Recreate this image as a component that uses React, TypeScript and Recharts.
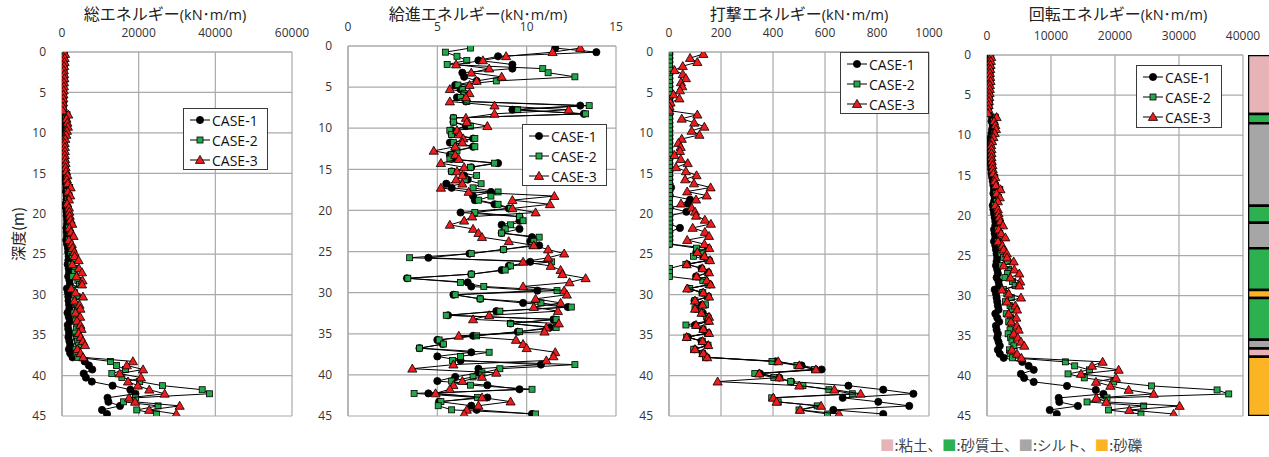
import { ScatterChart, Scatter, XAxis, YAxis, CartesianGrid, BarChart, Bar } from 'recharts'

// depth (m) of each measurement
const depth = [
  0.25, 0.75, 1.25, 1.75, 2.25, 2.75, 3.25, 3.75, 4.25, 4.75,
  5.25, 5.75, 6.25, 6.75, 7.25, 7.75, 8.25, 8.75, 9.25, 9.75,
  10.25, 10.75, 11.25, 11.75, 12.25, 12.75, 13.25, 13.75, 14.25, 14.75,
  15.25, 15.75, 16.25, 16.75, 17.25, 17.75, 18.25, 18.75, 19.25, 19.75,
  20.25, 20.75, 21.25, 21.75, 22.25, 22.75, 23.25, 23.75, 24.25, 24.75,
  25.25, 25.75, 26.25, 26.75, 27.25, 27.75, 28.25, 28.75, 29.25, 29.75,
  30.25, 30.75, 31.25, 31.75, 32.25, 32.75, 33.25, 33.75, 34.25, 34.75,
  35.25, 35.75, 36.25, 36.75, 37.25, 37.75, 38.25, 38.75, 39.25, 39.75,
  40.25, 40.75, 41.25, 41.75, 42.25, 42.75, 43.25, 43.75, 44.25, 44.75,
]

// 総エネルギー
const totalCase1 = [
  510, 500, 460, 430, 410, 390, 410, 390, 360, 340,
  310, 290, 260, 210, 165, 810, 715, 905, 805, 705,
  605, 505, 460, 455, 490, 505, 555, 605, 660, 705,
  805, 905, 1005, 1110, 1005, 1210, 1190, 980, 1010, 1175,
  1205, 1310, 1310, 1150, 1210, 1310, 1110, 1310, 1560, 1615,
  1740, 1660, 1480, 1735, 1860, 1610, 1945, 2065, 1285, 1540,
  1655, 1705, 1835, 1915, 1440, 1755, 2060, 1510, 1640, 1860,
  1680, 1930, 2155, 1805, 2135, 2750, 5915, 7020, 7895, 5660,
  6230, 7775, 13200, 17830, 19145, 11875, 12110, 15130, 10440, 11735,
]
const totalCase2 = [
  607, 555, 506, 487, 456, 431, 463, 435, 410, 388,
  358, 328, 288, 238, 195, 1312, 1015, 1208, 1308, 1109,
  908, 708, 609, 608, 659, 658, 708, 808, 860, 909,
  1208, 1109, 1309, 2009, 1409, 1810, 1510, 1209, 1510, 1611,
  1809, 2012, 2112, 1711, 2011, 2211, 1713, 2112, 2416, 2340,
  2701, 3355, 2376, 3411, 3211, 2809, 4133, 4556, 2688, 3242,
  3956, 3007, 3751, 4012, 3134, 3851, 3562, 3874, 3742, 3458,
  3775, 4033, 4355, 3599, 3736, 4146, 12642, 14205, 16569, 12998,
  15610, 20274, 26222, 36575, 38479, 19152, 16055, 25055, 19506, 24681,
]
const totalCase3 = [
  795, 692, 668, 561, 477, 561, 622, 505, 508, 449,
  373, 347, 263, 206, 159, 1621, 1157, 1404, 1543, 1295,
  1123, 855, 692, 751, 748, 726, 801, 928, 932, 1072,
  1412, 1268, 1502, 2266, 1575, 2152, 1816, 1355, 1798, 1909,
  2015, 2225, 2668, 1917, 2345, 3021, 1798, 2545, 2765, 3220,
  3273, 4339, 2678, 4410, 5216, 3768, 5358, 5222, 2420, 3534,
  5476, 3236, 4571, 4800, 3527, 4742, 3911, 4806, 5093, 4335,
  4874, 5448, 5991, 4010, 4834, 5519, 18501, 16906, 21139, 15045,
  20582, 17223, 19777, 22772, 26782, 17489, 19063, 30692, 22751, 29821,
]

// 給進エネルギー
const feedCase1 = [
  11.6, 13.9, 8.4, 7.3, 9.2, 9.2, 6.4, 6.5, 7.2, 6.0,
  6.3, 6.5, 6.1, 6.6, 13.0, 9.2, 13.2, 5.9, 5.9, 6.6,
  5.8, 5.8, 7.0, 5.7, 7.0, 6.0, 5.7, 5.8, 8.4, 6.9,
  5.8, 6.5, 6.7, 5.5, 5.8, 8.0, 7.0, 7.1, 8.2, 9.0,
  6.3, 9.6, 9.6, 8.6, 9.6, 8.6, 10.3, 10.2, 10.7, 8.7,
  6.8, 4.5, 10.2, 9.0, 8.6, 6.9, 3.3, 6.7, 6.9, 10.6,
  5.9, 7.4, 9.8, 12.3, 8.3, 5.6, 11.5, 9.1, 11.3, 9.5,
  7.0, 5.0, 5.3, 4.0, 6.9, 5.0, 6.3, 10.8, 7.3, 7.3,
  6.0, 5.0, 7.8, 9.6, 4.5, 7.8, 5.1, 6.9, 7.2, 10.3,
]
const feedCase2 = [
  6.85, 5.45, 6.1, 6.65, 5.55, 10.9, 11.2, 12.7, 8.3, 6.15,
  6.4, 6.5, 6.3, 6.65, 13.5, 9.5, 13.3, 5.9, 5.9, 6.85,
  5.7, 5.8, 7.1, 5.9, 7.1, 6.1, 5.8, 5.7, 8.2, 6.85,
  5.8, 7.2, 6.55, 7.45, 7.0, 8.4, 8.0, 7.3, 8.4, 9.1,
  7.1, 9.6, 9.8, 9.1, 8.8, 8.6, 10.7, 10.4, 10.3, 8.7,
  6.9, 3.45, 11.4, 9.1, 8.8, 6.9, 3.35, 6.3, 7.6, 11.7,
  6.0, 7.4, 10.8, 12.5, 8.5, 5.5, 11.65, 9.1, 11.65, 9.6,
  7.2, 5.1, 5.35, 4.0, 7.9, 6.3, 5.85, 12.7, 8.5, 7.5,
  7.0, 5.8, 6.85, 10.3, 3.7, 7.25, 5.2, 5.05, 5.8, 10.5,
]
const feedCase3 = [
  13.0, 11.45, 8.85, 7.55, 6.05, 7.9, 6.9, 8.6, 7.2, 6.8,
  5.7, 6.8, 6.6, 5.7, 8.2, 12.35, 8.2, 6.6, 6.65, 7.8,
  6.1, 6.25, 6.45, 6.4, 6.0, 4.8, 6.0, 6.2, 5.2, 6.5,
  6.1, 6.4, 6.05, 6.4, 5.2, 6.75, 11.55, 9.2, 11.3, 9.2,
  10.5, 6.95, 6.5, 5.7, 7.0, 7.3, 7.5, 9.0, 10.4, 11.2,
  12.1, 11.2, 9.8, 11.35, 11.9, 12.0, 13.3, 12.4, 9.8, 12.1,
  12.25, 10.5, 11.9, 10.4, 11.75, 7.9, 7.0, 11.8, 11.1, 11.0,
  6.2, 9.4, 9.8, 10.0, 11.6, 11.5, 11.1, 5.9, 3.6, 8.3,
  7.5, 6.4, 5.9, 5.7, 4.9, 7.5, 9.1, 7.3, 6.65, 6.5,
]

// 打撃エネルギー
const percCase1 = [
  2, 2, 2, 2, 2, 2, 2, 2, 2, 2,
  2, 2, 2, 2, 2, 2, 2, 2, 2, 2,
  2, 2, 2, 2, 2, 2, 2, 2, 2, 2,
  2, 2, 2, 8, 2, 3, 81, 74, 3, 67,
  2, 2, 2, 42, 2, 2, 2, 2, 150, 105,
  132, 155, 70, 125, 150, 104, 140, 156, 75, 128,
  150, 98, 126, 103, 130, 150, 150, 100, 130, 150,
  72, 125, 148, 98, 130, 145, 410, 510, 587, 350,
  424, 470, 690, 824, 940, 668, 805, 924, 632, 824,
]
const percCase2 = [
  2, 2, 2, 2, 2, 2, 2, 2, 2, 2,
  2, 2, 2, 2, 2, 2, 2, 2, 2, 2,
  2, 2, 2, 2, 2, 2, 2, 2, 2, 2,
  2, 2, 2, 2, 2, 2, 2, 2, 2, 2,
  2, 2, 2, 2, 2, 2, 2, 2, 106, 130,
  94, 150, 65, 2, 2, 2, 130, 150, 80, 130,
  150, 100, 140, 100, 125, 145, 150, 65, 130, 148,
  68, 128, 150, 95, 128, 140, 396, 492, 560, 330,
  403, 468, 515, 615, 705, 395, 420, 570, 500, 610,
]
const percCase3 = [
  132, 81, 109, 53, 21, 53, 65, 46, 51, 42,
  17, 40, 6, 2, 1, 109, 49, 97, 136, 87,
  117, 49, 36, 45, 42, 21, 45, 72, 27, 65,
  106, 62, 96, 160, 70, 145, 104, 46, 87, 100,
  104, 138, 161, 91, 138, 154, 70, 136, 155, 109,
  136, 158, 68, 129, 154, 106, 145, 160, 70, 132,
  154, 100, 129, 100, 125, 154, 154, 104, 132, 154,
  68, 129, 151, 100, 132, 147, 420, 501, 565, 347,
  424, 187, 501, 636, 737, 401, 414, 585, 504, 654,
]

// 回転エネルギー
const rotCase1 = [
  500, 480, 450, 420, 400, 380, 400, 380, 350, 330,
  300, 280, 250, 200, 150, 800, 700, 900, 800, 700,
  600, 500, 450, 450, 480, 500, 550, 600, 650, 700,
  800, 900, 1000, 1100, 1000, 1200, 1100, 900, 1000, 1100,
  1200, 1300, 1300, 1100, 1200, 1300, 1100, 1300, 1400, 1500,
  1600, 1500, 1400, 1600, 1700, 1500, 1800, 1900, 1200, 1400,
  1500, 1600, 1700, 1800, 1300, 1600, 1900, 1400, 1500, 1700,
  1600, 1800, 2000, 1700, 2000, 2600, 5500, 6500, 7300, 5300,
  5800, 7300, 12500, 17000, 18200, 11200, 11300, 14200, 9800, 10900,
]
const rotCase2 = [
  600, 550, 500, 480, 450, 420, 450, 420, 400, 380,
  350, 320, 280, 230, 180, 1300, 1000, 1200, 1300, 1100,
  900, 700, 600, 600, 650, 650, 700, 800, 850, 900,
  1200, 1100, 1300, 2000, 1400, 1800, 1500, 1200, 1500, 1600,
  1800, 2000, 2100, 1700, 2000, 2200, 1700, 2100, 2300, 2200,
  2600, 3200, 2300, 3400, 3200, 2800, 4000, 4400, 2600, 3100,
  3800, 2900, 3600, 3900, 3000, 3700, 3400, 3800, 3600, 3300,
  3700, 3900, 4200, 3500, 3600, 4000, 12240, 13700, 16000, 12660,
  15200, 19800, 25700, 35950, 37770, 18750, 15630, 24480, 19000, 24060,
]
const rotCase3 = [
  650, 600, 550, 500, 450, 500, 550, 450, 450, 400,
  350, 300, 250, 200, 150, 1500, 1100, 1300, 1400, 1200,
  1000, 800, 650, 700, 700, 700, 750, 850, 900, 1000,
  1300, 1200, 1400, 2100, 1500, 2000, 1700, 1300, 1700, 1800,
  1900, 2080, 2500, 1820, 2200, 2860, 1720, 2400, 2600, 3100,
  3125, 4170, 2600, 4270, 5050, 3650, 5200, 5050, 2340, 3390,
  5310, 3125, 4430, 4690, 3390, 4580, 3750, 4690, 4950, 4170,
  4800, 5310, 5830, 3900, 4690, 5360, 18070, 16400, 20570, 14690,
  20150, 17030, 19270, 22130, 26040, 17080, 18640, 30100, 22240, 29160,
]

const depthTicks = [0, 5, 10, 15, 20, 25, 30, 35, 40, 45]
const caseNames = ['CASE-1', 'CASE-2', 'CASE-3']

// soil column
const layerThickness = [7.36, 1.14, 10.3, 2.1, 3.2, 5.2, 1.0, 5.2, 1.1, 1.0, 7.4]
const layerSoil = ['clay', 'sand', 'silt', 'sand', 'silt', 'sand', 'gravel', 'sand', 'silt', 'clay', 'gravel']
const soilColors: Record<string, string> = {
  clay: '#E6B3B6',
  sand: '#2DB050',
  silt: '#A6A6A6',
  gravel: '#FBB424',
}
const soilLegend = [
  { key: 'clay', label: '粘土' },
  { key: 'sand', label: '砂質土' },
  { key: 'silt', label: 'シルト' },
  { key: 'gravel', label: '砂礫' },
]

const GRID = '#A9A9A9'
const NUM_FONT = '"Open Sans", sans-serif'
const JP_FONT = '"Noto Sans CJK JP", sans-serif'

type Kind = 'circle' | 'square' | 'triangle'
const kinds: Kind[] = ['circle', 'square', 'triangle']
const fills = ['#000000', '#22A84A', '#EE1C1C']

function Marker({ cx, cy, kind, fill }: { cx: number; cy: number; kind: Kind; fill: string }) {
  if (kind === 'circle') {
    return <circle cx={cx} cy={cy} r={3.6} fill={fill} stroke="#000" strokeWidth={0.8} />
  }
  if (kind === 'square') {
    return <rect x={cx - 3} y={cy - 3} width={6} height={6} fill={fill} stroke="#000" strokeWidth={0.8} />
  }
  return (
    <path
      d={`M${cx},${cy - 4.6}L${cx + 4.6},${cy + 3.4}L${cx - 4.6},${cy + 3.4}Z`}
      fill={fill}
      stroke="#000"
      strokeWidth={0.8}
    />
  )
}

function LegendBox({ x, y, w, h }: { x: number; y: number; w: number; h: number }) {
  return (
    <div
      style={{
        position: 'absolute',
        left: x,
        top: y,
        width: w,
        height: h,
        boxSizing: 'border-box',
        border: '1.3px solid #3a3a3a',
        background: '#fff',
        paddingTop: 1,
      }}
    >
      {caseNames.map((name, i) => (
        <div key={name} style={{ display: 'flex', alignItems: 'center', height: 20, marginLeft: 5 }}>
          <svg width={22} height={12}>
            <line x1={1} y1={6} x2={21} y2={6} stroke="#000" strokeWidth={1} />
            <Marker cx={11} cy={6} kind={kinds[i]} fill={fills[i]} />
          </svg>
          <span style={{ fontFamily: NUM_FONT, fontSize: 14, color: '#111', marginLeft: 1 }}>{name}</span>
        </div>
      ))}
    </div>
  )
}

interface PanelProps {
  left: number
  top: number
  w: number
  h: number
  xMax: number
  xTicks: number[]
  values: number[][]
  title: string
  titleX: number
  legend: { x: number; y: number; w: number; h: number }
}

function Panel({ left, top, w, h, xMax, xTicks, values, title, titleX, legend }: PanelProps) {
  return (
    <>
      <div
        style={{
          position: 'absolute',
          left: titleX - 100,
          width: 200,
          top: 4,
          lineHeight: '18px',
          textAlign: 'center',
          whiteSpace: 'nowrap',
          color: '#222',
        }}
      >
        <span style={{ fontFamily: JP_FONT, fontSize: 16 }}>{title}</span>
        <span style={{ fontFamily: NUM_FONT, fontSize: 14.5 }}>(kN</span>
        <span style={{ fontFamily: JP_FONT, fontSize: 14.5 }}>･</span>
        <span style={{ fontFamily: NUM_FONT, fontSize: 14.5 }}>m/m)</span>
      </div>
      <div style={{ position: 'absolute', left: left - 50, top: top - 45 }}>
        <ScatterChart width={w + 80} height={h + 55} margin={{ top: 20, right: 30, bottom: 10, left: 10 }}>
          <CartesianGrid stroke={GRID} strokeWidth={1.2} />
          <XAxis
            type="number"
            dataKey="x"
            orientation="top"
            domain={[0, xMax]}
            ticks={xTicks}
            interval={0}
            height={25}
            tickLine={false}
            tickSize={6}
            tickMargin={9}
            axisLine={{ stroke: GRID, strokeWidth: 1.2 }}
            tick={{ fill: '#333', fontSize: 12, fontFamily: NUM_FONT }}
            allowDataOverflow
          />
          <YAxis
            type="number"
            dataKey="y"
            reversed
            domain={[0, 45]}
            ticks={depthTicks}
            interval={0}
            width={40}
            tickLine={false}
            tickSize={6}
            tickMargin={10}
            axisLine={{ stroke: GRID, strokeWidth: 1.2 }}
            tick={{ fill: '#333', fontSize: 12, fontFamily: NUM_FONT }}
            allowDataOverflow
          />
          {values.map((vals, i) => (
            <Scatter
              key={caseNames[i]}
              name={caseNames[i]}
              data={depth.map((d, j) => ({ x: vals[j], y: d }))}
              isAnimationActive={false}
              line={{ stroke: '#000', strokeWidth: 1 }}
              lineJointType="linear"
              shape={(p: any) => <Marker cx={p.cx} cy={p.cy} kind={kinds[i]} fill={fills[i]} />}
            />
          ))}
        </ScatterChart>
      </div>
      <LegendBox {...legend} />
    </>
  )
}

function SoilColumn() {
  const row: Record<string, number | string> = { name: 'soil' }
  layerThickness.forEach((t, i) => {
    row['L' + i] = t
  })
  return (
    <div style={{ position: 'absolute', left: 1248, top: 55 }}>
      <BarChart width={40} height={361} data={[row]} margin={{ top: 0, right: 0, bottom: 0, left: 0 }} barCategoryGap={0}>
        <XAxis type="category" dataKey="name" hide />
        <YAxis type="number" domain={[0, 45]} reversed hide allowDataOverflow />
        {layerThickness.map((_, i) => (
          <Bar
            key={i}
            dataKey={'L' + i}
            stackId="soil"
            fill={soilColors[layerSoil[i]]}
            stroke="#000"
            strokeWidth={2.5}
            isAnimationActive={false}
          />
        ))}
      </BarChart>
    </div>
  )
}

export default function App() {
  return (
    <div
      style={{
        position: 'relative',
        width: 1269,
        height: 457,
        overflow: 'hidden',
        background: '#fff',
      }}
    >
      <style>{'body{margin:0}'}</style>
      <Panel
        left={62}
        top={52}
        w={230}
        h={364}
        xMax={60000}
        xTicks={[0, 20000, 40000, 60000]}
        values={[totalCase1, totalCase2, totalCase3]}
        title="総エネルギー"
        titleX={165}
        legend={{ x: 183, y: 108, w: 85, h: 62 }}
      />
      <Panel
        left={348}
        top={46}
        w={268}
        h={370}
        xMax={15}
        xTicks={[0, 5, 10, 15]}
        values={[feedCase1, feedCase2, feedCase3]}
        title="給進エネルギー"
        titleX={478}
        legend={{ x: 522, y: 124, w: 85, h: 62 }}
      />
      <Panel
        left={669}
        top={52}
        w={260}
        h={364}
        xMax={1000}
        xTicks={[0, 200, 400, 600, 800, 1000]}
        values={[percCase1, percCase2, percCase3]}
        title="打撃エネルギー"
        titleX={799}
        legend={{ x: 840, y: 52, w: 89, h: 62 }}
      />
      <Panel
        left={987}
        top={55}
        w={256}
        h={361}
        xMax={40000}
        xTicks={[0, 10000, 20000, 30000, 40000]}
        values={[rotCase1, rotCase2, rotCase3]}
        title="回転エネルギー"
        titleX={1118}
        legend={{ x: 1136, y: 65, w: 86, h: 63 }}
      />
      <SoilColumn />
      <div
        style={{
          position: 'absolute',
          left: 17,
          top: 234,
          transform: 'translate(-50%, -50%) rotate(-90deg)',
          fontFamily: JP_FONT,
          fontSize: 15,
          color: '#222',
          whiteSpace: 'nowrap',
        }}
      >
        深度(m)
      </div>
      <div
        style={{
          position: 'absolute',
          left: 880,
          top: 434,
          fontFamily: JP_FONT,
          fontSize: 14.5,
          color: '#444',
          whiteSpace: 'nowrap',
        }}
      >
        {soilLegend.map((s, i) => (
          <span key={s.key}>
            <span style={{ color: soilColors[s.key] }}>■</span>
            <span>:{s.label}{i < soilLegend.length - 1 ? '、' : ''}</span>
          </span>
        ))}
      </div>
    </div>
  )
}
